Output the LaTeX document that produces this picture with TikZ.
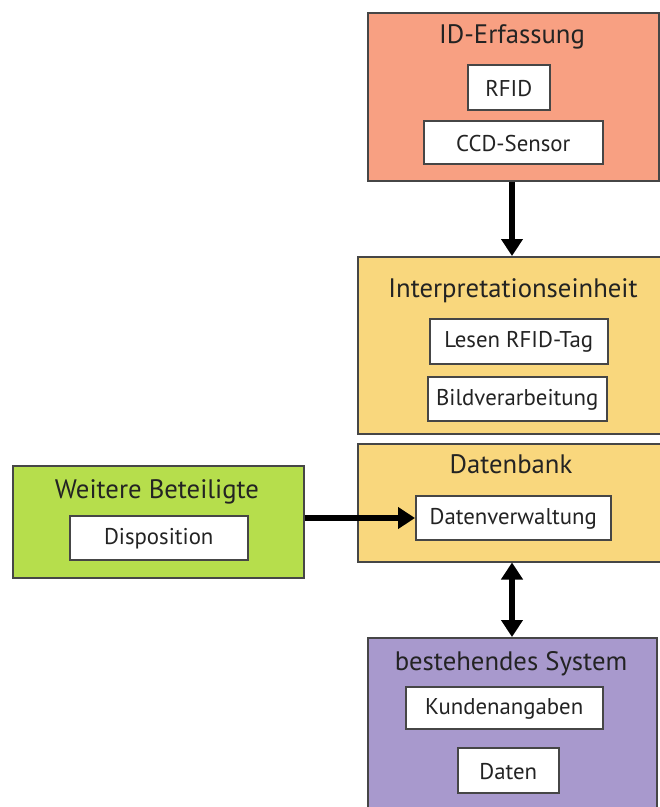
\documentclass[tikz,border=0pt]{standalone}
\usepackage{fontspec}
\setmainfont{PT Sans}
\usetikzlibrary{arrows.meta}
\definecolor{salmon}{RGB}{248,160,130}
\definecolor{sand}{RGB}{249,215,125}
\definecolor{lime}{RGB}{182,222,76}
\definecolor{lilac}{RGB}{168,153,205}
\definecolor{edge}{RGB}{70,70,70}
\definecolor{ink}{RGB}{35,35,35}
\begin{document}
\begin{tikzpicture}[x=1pt,y=-1pt,
  group/.style={draw=edge,line width=1.5pt,anchor=north west,inner sep=0pt},
  item/.style={draw=edge,line width=1.5pt,fill=white,anchor=north west,inner sep=0pt},
  title/.style={anchor=base,text=ink,font=\fontsize{26.7}{32}\selectfont,inner sep=0pt},
  label/.style={text=ink,font=\fontsize{22.8}{27}\selectfont,inner sep=0pt},
  flow/.style={line width=6.5pt,-{Triangle[width=21pt,length=17pt]}},
  bothways/.style={line width=6.5pt,{Triangle[width=21pt,length=17pt]}-{Triangle[width=21pt,length=17pt]}}]
\useasboundingbox (0,0) rectangle (660,807);

% ID capture
\node[group,fill=salmon,minimum width=291pt,minimum height=168pt] (idbox) at (367,12) {};
\node[title] (idtitle) at (512,43) {ID-Erfassung};
\node[item,minimum width=82pt,minimum height=45pt] (rfid) at (467,64) {};
\node[label] at ([yshift=-1pt]rfid.center) {RFID};
\node[item,minimum width=179pt,minimum height=43pt] (ccd) at (423,120) {};
\node[label] at ([yshift=-1pt]ccd.center) {CCD-Sensor};

% interpretation unit
\node[group,fill=sand,minimum width=310pt,minimum height=177pt] (interp) at (357,256) {};
\node[title] (interptitle) at (513,297) {Interpretationseinheit};
\node[item,minimum width=178pt,minimum height=45pt] (lesen) at (429,318) {};
\node[label] at ([yshift=-1pt]lesen.center) {Lesen RFID-Tag};
\node[item,minimum width=179pt,minimum height=44pt] (bild) at (427,376) {};
\node[label] at ([yshift=-1pt]bild.center) {Bildverarbeitung};

% database
\node[group,fill=sand,minimum width=310pt,minimum height=118pt] (db) at (357,443) {};
\node[title] (dbtitle) at (511,473) {Datenbank};
\node[item,minimum width=195pt,minimum height=44pt] (verw) at (415,495) {};
\node[label] at ([yshift=-1pt]verw.center) {Datenverwaltung};

% other parties
\node[group,fill=lime,minimum width=291pt,minimum height=112pt] (weitere) at (12,465) {};
\node[title] (wtitle) at (157,498) {Weitere Beteiligte};
\node[item,minimum width=178pt,minimum height=44pt] (dispo) at (69,515) {};
\node[label] at ([yshift=-1pt]dispo.center) {Disposition};

% existing system
\node[group,fill=lilac,minimum width=289pt,minimum height=180pt] (sys) at (367,637) {};
\node[title] (systitle) at (511,670) {bestehendes System};
\node[item,minimum width=197pt,minimum height=42pt] (kunden) at (405,686) {};
\node[label] at ([yshift=-1pt]kunden.center) {Kundenangaben};
\node[item,minimum width=101pt,minimum height=45pt] (daten) at (457,747) {};
\node[label] at ([yshift=-1pt]daten.center) {Daten};

% connectors
\draw[flow] (idbox.south -| 512,0) -- (interp.north -| 512,0);
\draw[flow] (weitere.east |- 0,518) -- (verw.west |- 0,518);
\draw[bothways] (db.south -| 512,0) -- (sys.north -| 512,0);
\end{tikzpicture}
\end{document}
